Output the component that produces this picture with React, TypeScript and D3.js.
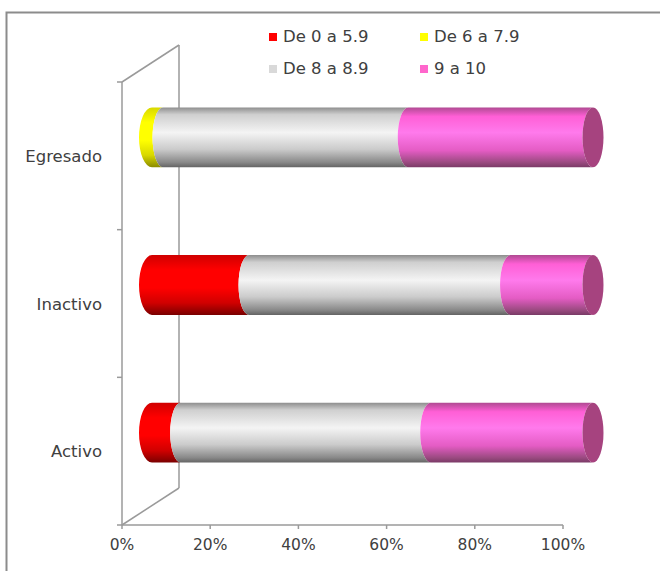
import React from "react";
import * as d3 from "d3";

const categories = ["Egresado", "Inactivo", "Activo"];
const seriesNames = ["De 0 a 5.9", "De 6 a 7.9", "De 8 a 8.9", "9 a 10"];
const serie0a59 = [0, 22.0, 6.5];
const serie6a79 = [2.5, 0, 0];
const serie8a89 = [55.6, 59.3, 56.7];
const serie9a10 = [41.9, 18.7, 36.8];
const tickValues = [0, 20, 40, 60, 80, 100];

const W = 660;
const H = 571;
const FONT = "'DejaVu Sans', sans-serif";

const gradients = [
  { id: "g0", stops: [["0%", "#d00000"], ["25%", "#ff0000"], ["55%", "#ff0000"], ["80%", "#d00000"], ["100%", "#7a0000"]], cap: "#a00000", legend: "#ff0000" },
  { id: "g1", stops: [["0%", "#d8d800"], ["25%", "#ffff00"], ["55%", "#ffff00"], ["80%", "#d8d800"], ["100%", "#8a8a00"]], cap: "#b0b000", legend: "#ffff00" },
  { id: "g2", stops: [["0%", "#8e8e8e"], ["12%", "#cfcfcf"], ["42%", "#f4f4f4"], ["70%", "#cbcbcb"], ["92%", "#888888"], ["100%", "#646464"]], cap: "#b0b0b0", legend: "#d9d9d9" },
  { id: "g3", stops: [["0%", "#b04a92"], ["15%", "#ff5fd6"], ["42%", "#ff7aec"], ["72%", "#e45cc4"], ["92%", "#9a4a80"], ["100%", "#7a3a66"]], cap: "#a6437f", legend: "#ff66cc" },
];

export default function App() {
  const rows = categories.map((c, i) => ({
    cat: c,
    s0: serie0a59[i],
    s1: serie6a79[i],
    s2: serie8a89[i],
    s3: serie9a10[i],
  }));
  const keys = ["s0", "s1", "s2", "s3"];
  const stacked = d3.stack<any>().keys(keys)(rows);

  const x = d3.scaleLinear().domain([0, 100]).range([122, 563]);
  const y = d3.scaleBand().domain(categories).range([82, 525]).paddingInner(0).paddingOuter(0);

  const depthX = 57;
  const depthY = -37;
  const midX = depthX / 2 + 1.5;
  const midY = depthY / 2;
  const barH = y.bandwidth() * 0.405;
  const rx = 10.5;
  const rxLeft = 13;
  const ry = barH / 2;

  const segPath = (x0: number, x1: number, top: number, bot: number, lrx: number) =>
    `M${x0},${top} L${x1},${top} A${rx},${ry} 0 0 0 ${x1},${bot} L${x0},${bot} A${lrx},${ry} 0 0 1 ${x0},${top} Z`;

  const yTop = 82, yBot = 525;
  const xL = x(0);

  return (
    <svg width={W} height={H} style={{ position: "absolute", left: 0, top: 0, background: "#fff" }}>
      <defs>
        {gradients.map((g) => (
          <linearGradient key={g.id} id={g.id} x1="0" y1="0" x2="0" y2="1">
            {g.stops.map(([o, c]) => (
              <stop key={o} offset={o} stopColor={c} />
            ))}
          </linearGradient>
        ))}
      </defs>
      <rect x={6.5} y={12.5} width={700} height={600} fill="none" stroke="#8c8c8c" strokeWidth={2} />

      {/* walls */}
      <g stroke="#9a9a9a" strokeWidth={1.5} fill="none">
        <line x1={xL} y1={yTop} x2={xL} y2={yBot} />
        <line x1={xL + depthX} y1={yTop + depthY} x2={xL + depthX} y2={yBot + depthY} />
        <line x1={xL} y1={yTop} x2={xL + depthX} y2={yTop + depthY} />
        <line x1={xL} y1={yBot} x2={xL + depthX} y2={yBot + depthY} />
        <line x1={xL} y1={yBot} x2={x(100)} y2={yBot} />
        {tickValues.map((t) => (
          <line key={t} x1={x(t)} y1={yBot} x2={x(t)} y2={yBot + 4} />
        ))}
        {[...categories.map((c) => y(c) as number), yBot].map((v, i) => (
          <line key={i} x1={xL - 5} y1={v} x2={xL} y2={v} />
        ))}
      </g>

      {/* bars */}
      {categories.map((c, ci) => {
        const cy = (y(c) as number) + y.bandwidth() / 2 + midY;
        const top = cy - barH / 2;
        const bot = cy + barH / 2;
        let lastIdx = -1;
        let firstIdx = -1;
        stacked.forEach((s, si) => {
          if (s[ci][1] - s[ci][0] > 0) {
            lastIdx = si;
            if (firstIdx < 0) firstIdx = si;
          }
        });
        return (
          <g key={c}>
            {stacked.map((s, si) => {
              const v0 = s[ci][0];
              const v1 = s[ci][1];
              if (v1 - v0 <= 0) return null;
              return (
                <path
                  key={si}
                  d={segPath(x(v0) + midX, x(v1) + midX, top, bot, si === firstIdx ? rxLeft : rx)}
                  fill={`url(#${gradients[si].id})`}
                />
              );
            })}
            {lastIdx >= 0 && (
              <ellipse cx={x(stacked[lastIdx][ci][1]) + midX} cy={cy} rx={rx} ry={ry} fill={gradients[lastIdx].cap} />
            )}
          </g>
        );
      })}

      {/* category labels */}
      {categories.map((c) => (
        <text key={c} x={102} y={(y(c) as number) + y.bandwidth() / 2 + 6} textAnchor="end" fontFamily={FONT} fontSize={16.5} fill="#404040">
          {c}
        </text>
      ))}

      {/* x tick labels */}
      {tickValues.map((t) => (
        <text key={t} x={x(t)} y={550} textAnchor="middle" fontFamily={FONT} fontSize={15.5} fill="#404040">
          {`${t}%`}
        </text>
      ))}

      {/* legend */}
      {seriesNames.map((n, i) => {
        const col = i % 2 === 0 ? 0 : 1;
        const row = i < 2 ? 0 : 1;
        const lx = [269, 420][col];
        const ly = [33, 65][row];
        return (
          <g key={n}>
            <rect x={lx} y={ly} width={8} height={8} fill={gradients[i].legend} />
            <text x={lx + 14} y={ly + 9} fontFamily={FONT} fontSize={16.5} fill="#404040">
              {n}
            </text>
          </g>
        );
      })}
    </svg>
  );
}
